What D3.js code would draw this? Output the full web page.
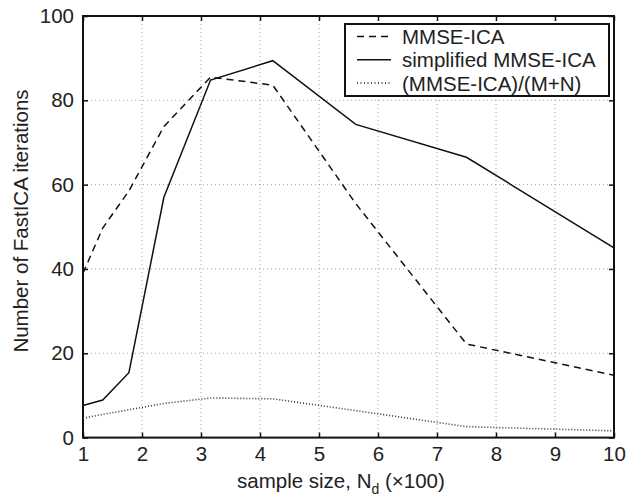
<!DOCTYPE html>
<html>
<head>
<meta charset="utf-8">
<script src="https://cdn.jsdelivr.net/npm/d3@7"></script>
<style>
  body { margin: 0; background: #fff; }
  svg { display: block; font-family: "Liberation Sans", Arial, sans-serif; }
</style>
</head>
<body>
<svg id="chart" width="626" height="496"></svg>
<script>
// sample sizes (x100), logarithmically spaced between 100 and 1000
const sampleSize = [1, 1.334, 1.778, 2.371, 3.162, 4.217, 5.623, 7.499, 10];
const mmseIca = [39, 49.7, 58.5, 73.8, 85.5, 83.6, 55.5, 22.2, 14.8];
const simplifiedIca = [7.6, 8.9, 15.4, 57.0, 84.8, 89.4, 74.3, 66.5, 45];
const normalizedIca = [4.6, 5.5, 6.6, 8.1, 9.4, 9.2, 6.4, 2.6, 1.6];
const xTicks = [1, 2, 3, 4, 5, 6, 7, 8, 9, 10];
const yTicks = [0, 20, 40, 60, 80, 100];

const series = [
    { name: "MMSE-ICA", values: mmseIca, dash: "7,5" },
    { name: "simplified MMSE-ICA", values: simplifiedIca, dash: null },
    { name: "(MMSE-ICA)/(M+N)", values: normalizedIca, dash: "1,2" },
];

const svg = d3.select("#chart");
const pl = 83, pr = 614, pt = 16, pb = 437.6;
const fs = "20.5px";

const x = d3.scaleLinear().domain([1, 10]).range([pl, pr]);
const y = d3.scaleLinear().domain([0, 100]).range([pb, pt]);

// grid
const grid = svg.append("g")
    .attr("stroke", "#888")
    .attr("stroke-width", 0.8)
    .attr("stroke-dasharray", "1,3");
grid.selectAll(".gx")
    .data(xTicks.slice(1, -1))
    .join("line")
    .attr("class", "gx")
    .attr("x1", d => x(d)).attr("x2", d => x(d))
    .attr("y1", pt).attr("y2", pb);
grid.selectAll(".gy")
    .data(yTicks.slice(1, -1))
    .join("line")
    .attr("class", "gy")
    .attr("x1", pl).attr("x2", pr)
    .attr("y1", d => y(d)).attr("y2", d => y(d));

// axes (ticks inward on all four sides)
const tickStyle = g => {
    g.select(".domain").remove();
    g.selectAll(".tick line").attr("stroke", "#111").attr("stroke-width", 1.5);
    g.selectAll("text").attr("fill", "#222").style("font-size", fs);
};

svg.append("g")
    .attr("transform", `translate(0,${pb})`)
    .call(d3.axisBottom(x).tickValues(xTicks).tickFormat(d3.format("d")).tickSizeInner(-5).tickPadding(9))
    .call(tickStyle);
svg.append("g")
    .attr("transform", `translate(0,${pt})`)
    .call(d3.axisTop(x).tickValues(xTicks).tickFormat("").tickSizeInner(-5))
    .call(tickStyle);
svg.append("g")
    .attr("transform", `translate(${pl},0)`)
    .call(d3.axisLeft(y).tickValues(yTicks).tickSizeInner(-5).tickPadding(9))
    .call(tickStyle);
svg.append("g")
    .attr("transform", `translate(${pr},0)`)
    .call(d3.axisRight(y).tickValues(yTicks).tickFormat("").tickSizeInner(-5))
    .call(tickStyle);

// frame
svg.append("rect")
    .attr("x", pl).attr("y", pt)
    .attr("width", pr - pl).attr("height", pb - pt)
    .attr("fill", "none").attr("stroke", "#111").attr("stroke-width", 2);

// lines
const line = d3.line()
    .x((d, i) => x(sampleSize[i]))
    .y(d => y(d));

svg.append("g")
    .selectAll("path")
    .data(series)
    .join("path")
    .attr("d", d => line(d.values))
    .attr("fill", "none")
    .attr("stroke", d => d.dash === "1,2" ? "#333" : "#111")
    .attr("stroke-width", d => d.dash === "1,2" ? 1.6 : 1.5)
    .attr("stroke-dasharray", d => d.dash);

// legend
const legend = svg.append("g");
legend.append("rect")
    .attr("x", 345).attr("y", 24)
    .attr("width", 264).attr("height", 72)
    .attr("fill", "#fff").attr("stroke", "#111").attr("stroke-width", 2);
const rows = legend.selectAll(".row")
    .data(series)
    .join("g")
    .attr("class", "row")
    .attr("transform", (d, i) => `translate(0,${36.5 + i * 23.3})`);
rows.append("line")
    .attr("x1", 357).attr("x2", 391)
    .attr("stroke", "#111")
    .attr("stroke-width", 1.5)
    .attr("stroke-dasharray", d => d.dash === "1,2" ? "1,2.5" : d.dash);
rows.append("text")
    .attr("x", 402).attr("y", 7.5)
    .attr("fill", "#222")
    .style("font-size", fs)
    .text(d => d.name);

// axis labels
const xl = svg.append("text")
    .attr("x", 237).attr("y", 488)
    .attr("fill", "#222")
    .style("font-size", fs);
xl.append("tspan").text("sample size, N");
xl.append("tspan").attr("dy", 6).style("font-size", "14px").text("d");
xl.append("tspan").attr("dy", -6).text(" (\u00d7100)");

svg.append("text")
    .attr("transform", "translate(28,221) rotate(-90)")
    .attr("text-anchor", "middle")
    .attr("fill", "#222")
    .style("font-size", fs)
    .text("Number of FastICA iterations");
</script>
</body>
</html>
